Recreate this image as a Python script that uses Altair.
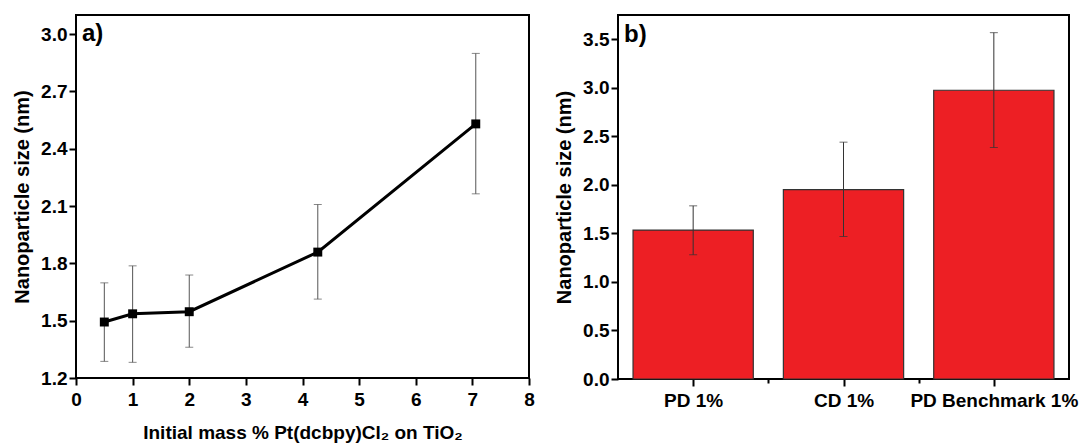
import altair as alt
import pandas as pd

# ---------- data ----------
mass = [0.5, 1.0, 2.0, 4.27, 7.06]
size_a = [1.493, 1.536, 1.547, 1.859, 2.530]
err_lo_a = [1.287, 1.282, 1.361, 1.613, 2.164]
err_hi_a = [1.698, 1.787, 1.739, 2.108, 2.899]

categories = ["PD 1%", "CD 1%", "PD Benchmark 1%"]
size_b = [1.534, 1.952, 2.975]
err_lo_b = [1.280, 1.468, 2.385]
err_hi_b = [1.784, 2.440, 3.568]

ya_ticks = [round(1.2 + 0.15 * i, 2) for i in range(13)]
xa_ticks = [0.5 * i for i in range(17)]
yb_ticks = [0.25 * i for i in range(15)]
xb_ticks = [1, 1.5, 2, 2.5, 3]

FONT = "Liberation Sans"
RED = "#ED1F24"

df_a = pd.DataFrame({"mass": mass, "size": size_a, "lo": err_lo_a, "hi": err_hi_a})
df_b = pd.DataFrame({"cat": categories, "pos": [i + 1 for i in range(len(categories))],
                     "size": size_b, "lo": err_lo_b, "hi": err_hi_b})

# ---------- panel a ----------
sx_a = alt.Scale(domain=[0, 8], nice=False, zero=False)
sy_a = alt.Scale(domain=[1.2, 3.1], nice=False, zero=False)
major_a = "abs(datum.value/0.3 - round(datum.value/0.3)) < 0.001"
xa = alt.X("mass:Q", scale=sx_a,
           axis=alt.Axis(values=xa_ticks, title="Initial mass % Pt(dcbpy)Cl₂ on TiO₂",
                         labelExpr="datum.value % 1 == 0 ? format(datum.value, 'd') : ''",
                         tickSize={"condition": {"test": "datum.value % 1 == 0", "value": 7}, "value": 4},
                         labelPadding=5, titlePadding=14, titleFontSize=19, labelFlush=False))
ya_axis = alt.Axis(values=ya_ticks, title="Nanoparticle size (nm)",
                   labelExpr=f"{major_a} ? format(datum.value, '.1f') : ''",
                   tickSize={"condition": {"test": major_a, "value": 7}, "value": 4},
                   labelPadding=2, titlePadding=8, labelFlush=False)

base_a = alt.Chart(df_a)
err_a = base_a.mark_rule(color="#555555", strokeWidth=1).encode(
    x=xa, y=alt.Y("lo:Q", scale=sy_a, axis=ya_axis), y2="hi:Q")
cap_lo_a = base_a.mark_tick(orient="horizontal", color="#555555", thickness=1, size=8).encode(
    x=alt.X("mass:Q"), y=alt.Y("lo:Q"))
cap_hi_a = base_a.mark_tick(orient="horizontal", color="#555555", thickness=1, size=8).encode(
    x=alt.X("mass:Q"), y=alt.Y("hi:Q"))
line_a = base_a.mark_line(color="black", strokeWidth=3).encode(x=alt.X("mass:Q"), y=alt.Y("size:Q"))
pts_a = base_a.mark_point(shape="square", filled=True, color="black", size=80, opacity=1).encode(
    x=alt.X("mass:Q"), y=alt.Y("size:Q"))
lab_a = alt.Chart(pd.DataFrame({"t": ["a)"]})).mark_text(
    font=FONT, fontWeight="bold", fontSize=24, align="left", baseline="alphabetic", color="black"
).encode(text="t:N", x=alt.value(6), y=alt.value(26))

panel_a = alt.layer(err_a, cap_lo_a, cap_hi_a, line_a, pts_a, lab_a).properties(width=453, height=363)

# ---------- panel b ----------
label_expr_b = " : ".join(
    [f"datum.value == {i + 1} ? '{c}'" for i, c in enumerate(categories)]) + " : ''"
sx_b = alt.Scale(domain=[0.5, 3.5], nice=False, zero=False)
xb = alt.X("x0:Q", scale=sx_b,
           axis=alt.Axis(values=xb_ticks, title=None, labelExpr=label_expr_b,
                         tickSize={"condition": {"test": "datum.value % 1 == 0", "value": 7}, "value": 4},
                         labelPadding=5, labelFlush=False, labelOverlap=False, labelBound=False))
yb = alt.Y("size:Q", scale=alt.Scale(domain=[0, 3.75], nice=False),
           axis=alt.Axis(values=yb_ticks, title="Nanoparticle size (nm)",
                         labelExpr="datum.value % 0.5 == 0 ? format(datum.value, '.1f') : ''",
                         tickSize={"condition": {"test": "datum.value % 0.5 == 0", "value": 7}, "value": 4},
                         labelPadding=2, titlePadding=8, labelFlush=False))

base_b = alt.Chart(df_b).transform_calculate(x0="datum.pos - 0.4", x1="datum.pos + 0.4")
bars_b = base_b.mark_bar(color=RED, stroke="#333333", strokeWidth=1.2).encode(
    x=xb, x2="x1:Q", y=yb, y2=alt.datum(0))
err_b = base_b.mark_rule(color="#333333", strokeWidth=1).encode(
    x=alt.X("pos:Q"), y=alt.Y("lo:Q"), y2="hi:Q")
cap_lo_b = base_b.mark_tick(orient="horizontal", color="#333333", thickness=1, size=8).encode(
    x=alt.X("pos:Q"), y=alt.Y("lo:Q"))
cap_hi_b = base_b.mark_tick(orient="horizontal", color="#333333", thickness=1, size=8).encode(
    x=alt.X("pos:Q"), y=alt.Y("hi:Q"))
lab_b = alt.Chart(pd.DataFrame({"t": ["b)"]})).mark_text(
    font=FONT, fontWeight="bold", fontSize=24, align="left", baseline="alphabetic", color="black"
).encode(text="t:N", x=alt.value(6), y=alt.value(27))

panel_b = alt.layer(bars_b, err_b, cap_lo_b, cap_hi_b, lab_b).properties(width=451, height=364)

chart = alt.hconcat(panel_a, panel_b, spacing=17).properties(
    padding={"left": 11, "top": 14, "right": 0, "bottom": 0}
).configure_axis(
    labelFont=FONT, labelFontSize=19, labelFontWeight="bold", labelColor="black",
    titleFont=FONT, titleFontSize=20, titleFontWeight="bold", titleColor="black",
    tickColor="black", tickWidth=2, domain=False, grid=False
).configure_view(stroke="black", strokeWidth=2)

chart.save("out.html", embed_options={"renderer": "svg", "actions": False})
